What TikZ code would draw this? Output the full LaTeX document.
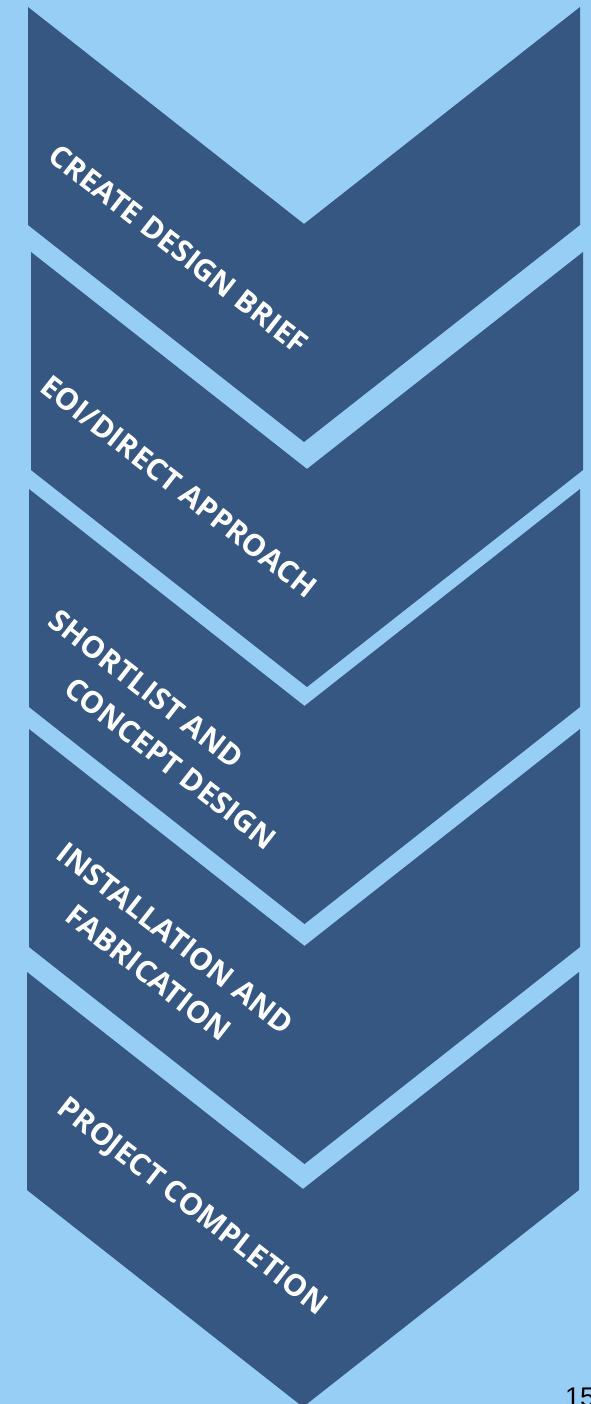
\documentclass[tikz,border=0pt]{standalone}
\usepackage{fontspec}
\setmainfont{Open Sans}
\newfontfamily\pagefont{Liberation Sans}
\definecolor{skyback}{RGB}{151,206,245}
\definecolor{stepblue}{RGB}{53,87,129}
\begin{document}
\begin{tikzpicture}[x=1pt,y=-1pt,
  stepfill/.style={fill=stepblue},
  steplabel/.style={text=white,font=\bfseries\fontsize{30}{44}\selectfont,
    rotate=-38,anchor=north west,inner sep=0pt}]
  % background
  \fill[skyback] (0,0) rectangle (591,1404);
  \useasboundingbox (0,0) rectangle (591,1404);
  % the five chevrons: left x / right x / top y
  \foreach \xl/\xr/\t/\n in {28/580/7/1, 31/583/252/2, 29/580/489/3, 29/580/729/4, 27/579/972/5}{
    \fill[stepfill] (\xl,\t) -- ({(\xl+\xr)/2},\t+217) -- (\xr,\t)
      -- (\xr,\t+218) -- ({(\xl+\xr)/2},\t+435) -- (\xl,\t+218) -- cycle;
  }
  % step labels
  \node[steplabel] (brief) at (60,142) {CREATE DESIGN BRIEF};
  \node[steplabel] (eoi) at (52,373) {EOI/DIRECT APPROACH};
  \node[steplabel,align=left] (concept) at (60,607) {SHORTLIST AND\\\hspace*{54pt}CONCEPT DESIGN};
  \node[steplabel,align=center] (install) at (68,840) {INSTALLATION AND\\FABRICATION};
  \node[steplabel] (complete) at (69,1094) {PROJECT COMPLETION};
  % page number
  \node[anchor=base west,inner sep=0pt,font=\pagefont\fontsize{27}{30}\selectfont] (pagenum) at (565,1406) {15};
\end{tikzpicture}
\end{document}
